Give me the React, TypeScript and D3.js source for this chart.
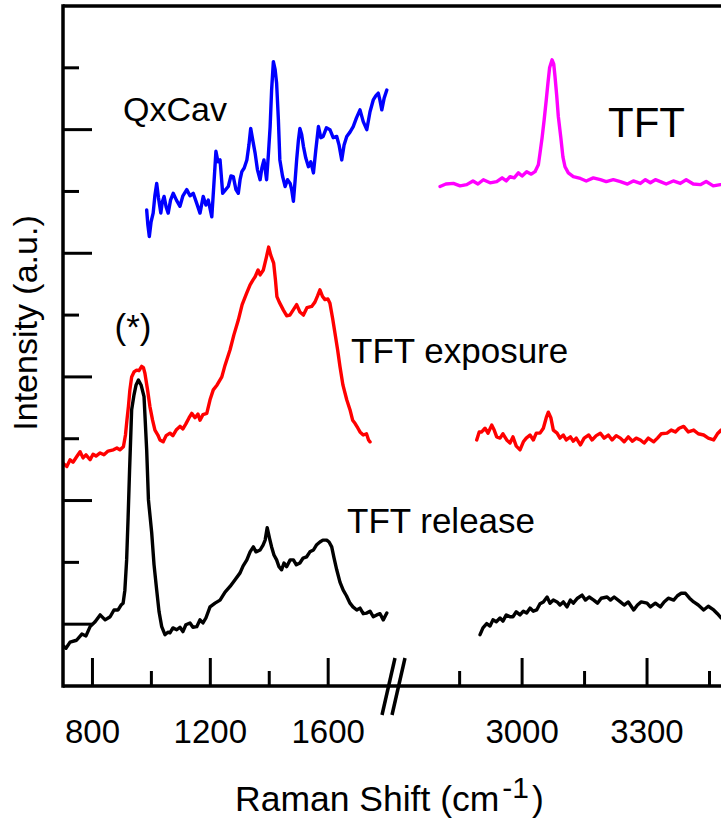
import React from "react";
import * as d3 from "d3";

// ---- Data (Raman shift cm^-1, intensity a.u.) ----
const releaseLeft: [number, number][] = [
  [700,0.65],[710,0.61],[724,0.71],[746,0.74],[764,0.84],[778,0.81],[792,0.96],[809,1.04],[826,1.15],[843,1.07],
  [860,1.12],[873,1.23],[887,1.23],[897,1.31],[904,1.34],[910,1.55],[916,2.04],[921,2.73],[926,3.5],[933,4.47],
  [941,4.71],[948,4.87],[956,4.95],[965,4.87],[975,4.68],[984,3.82],[990,3.01],[1001,2.48],[1009,1.96],[1018,1.55],
  [1026,1.2],[1035,0.96],[1046,0.83],[1056,0.87],[1063,0.86],[1073,0.94],[1086,0.91],[1097,0.95],[1107,0.88],[1117,0.99],
  [1131,1.02],[1141,0.95],[1154,0.96],[1165,1.07],[1175,1.02],[1185,1.1],[1199,1.28],[1216,1.34],[1233,1.39],[1250,1.52],
  [1267,1.61],[1284,1.72],[1301,1.83],[1311,1.94],[1324,2.04],[1335,2.17],[1346,2.25],[1355,2.17],[1369,2.2],[1379,2.28],
  [1386,2.36],[1393,2.56],[1401,2.39],[1408,2.25],[1416,2.12],[1425,2.04],[1433,1.93],[1442,1.88],[1450,1.99],[1459,1.93],
  [1471,2.04],[1482,2.04],[1492,1.96],[1504,1.99],[1515,2.07],[1527,2.09],[1538,2.17],[1550,2.2],[1560,2.28],[1572,2.33],
  [1582,2.36],[1595,2.36],[1603,2.33],[1612,2.25],[1620,2.07],[1629,1.88],[1640,1.68],[1651,1.55],[1662,1.46],[1674,1.34],
  [1684,1.28],[1697,1.23],[1708,1.26],[1719,1.17],[1731,1.18],[1742,1.21],[1753,1.12],[1765,1.15],[1776,1.17],[1787,1.07],[1799,1.18]
];
const releaseRight: [number, number][] = [
  [2899,0.83],[2906,0.94],[2915,1.01],[2923,0.97],[2930,1.07],[2938,1.04],[2947,1.1],[2954,1.05],[2962,1.15],[2971,1.12],
  [2978,1.12],[2986,1.2],[2995,1.15],[3003,1.21],[3011,1.18],[3019,1.26],[3027,1.21],[3035,1.23],[3043,1.33],[3051,1.36],
  [3060,1.44],[3067,1.34],[3075,1.39],[3084,1.36],[3091,1.31],[3099,1.36],[3108,1.28],[3116,1.39],[3123,1.34],[3133,1.42],
  [3144,1.47],[3152,1.39],[3161,1.44],[3172,1.39],[3181,1.34],[3190,1.42],[3204,1.44],[3212,1.39],[3221,1.44],[3236,1.36],
  [3245,1.31],[3255,1.36],[3268,1.23],[3277,1.31],[3286,1.36],[3300,1.34],[3308,1.28],[3320,1.34],[3332,1.28],[3341,1.36],
  [3351,1.42],[3364,1.39],[3373,1.46],[3382,1.5],[3392,1.5],[3402,1.42],[3412,1.36],[3423,1.31],[3436,1.23],[3447,1.29],
  [3460,1.23],[3469,1.17],[3478,1.1]
];
const exposureLeft: [number, number][] = [
  [701,3.6],[713,3.55],[724,3.66],[734,3.62],[748,3.72],[758,3.79],[768,3.69],[778,3.74],[792,3.66],[802,3.75],
  [812,3.72],[826,3.77],[839,3.74],[853,3.8],[871,3.82],[883,3.85],[893,3.82],[905,3.87],[912,4.06],[917,4.3],
  [922,4.52],[927,4.79],[933,5.0],[941,5.08],[950,5.11],[958,5.1],[967,5.17],[973,5.15],[978,5.06],[987,4.79],
  [995,4.52],[1004,4.3],[1012,4.14],[1022,4.06],[1029,3.98],[1040,3.95],[1050,4.05],[1063,4.09],[1073,4.05],[1084,4.14],
  [1097,4.2],[1107,4.16],[1117,4.24],[1128,4.34],[1137,4.41],[1148,4.34],[1158,4.4],[1165,4.3],[1175,4.39],[1188,4.41],
  [1199,4.63],[1210,4.79],[1223,4.87],[1239,5.0],[1250,5.19],[1267,5.44],[1280,5.68],[1295,5.92],[1308,6.17],[1323,6.35],
  [1335,6.49],[1345,6.57],[1352,6.62],[1362,6.73],[1369,6.65],[1380,6.73],[1390,6.93],[1398,7.1],[1405,6.97],[1415,6.84],
  [1421,6.57],[1426,6.3],[1434,6.21],[1448,6.08],[1459,5.99],[1470,6.0],[1481,6.08],[1493,6.17],[1504,6.05],[1516,6.0],
  [1528,6.12],[1544,6.14],[1555,6.21],[1564,6.31],[1572,6.41],[1581,6.3],[1589,6.25],[1599,6.26],[1606,6.19],[1615,5.95],
  [1623,5.71],[1632,5.44],[1640,5.17],[1650,4.87],[1663,4.63],[1674,4.47],[1683,4.3],[1691,4.25],[1701,4.17],[1708,4.11],
  [1719,4.06],[1730,4.08],[1737,3.98],[1742,3.95]
];
const exposureRight: [number, number][] = [
  [2891,3.98],[2897,4.11],[2903,4.11],[2911,4.17],[2918,4.09],[2927,4.22],[2933,4.14],[2939,4.03],[2947,4.01],[2954,4.08],
  [2963,3.98],[2971,3.93],[2978,4.03],[2986,3.88],[2995,3.82],[3003,3.95],[3010,4.01],[3019,4.06],[3027,3.98],[3034,4.09],
  [3043,4.09],[3051,4.17],[3058,4.34],[3063,4.43],[3069,4.34],[3075,4.14],[3084,4.09],[3091,4.01],[3099,4.06],[3106,3.98],
  [3116,4.03],[3123,3.96],[3130,4.01],[3140,3.9],[3149,4.01],[3160,4.06],[3168,3.98],[3178,4.05],[3188,4.09],[3197,4.01],
  [3207,4.06],[3216,3.98],[3226,4.05],[3236,4.01],[3245,3.95],[3255,4.03],[3265,3.96],[3274,4.01],[3284,3.98],[3293,3.93],
  [3303,4.01],[3316,3.95],[3325,4.01],[3334,4.08],[3348,4.09],[3358,4.14],[3368,4.11],[3377,4.17],[3388,4.2],[3399,4.11],
  [3412,4.14],[3423,4.08],[3436,4.06],[3447,4.01],[3460,3.98],[3469,4.08],[3478,4.14]
];
const qxcav: [number, number][] = [
  [984,7.7],[988,7.46],[993,7.27],[999,7.51],[1006,7.65],[1012,7.94],[1018,8.13],[1024,7.9],[1032,7.65],[1037,7.83],
  [1043,7.92],[1050,7.75],[1057,7.65],[1065,7.86],[1074,7.97],[1085,7.86],[1097,7.76],[1107,7.93],[1120,8.03],[1131,7.93],
  [1142,7.97],[1153,7.82],[1165,7.65],[1176,7.92],[1185,7.78],[1193,7.86],[1205,7.59],[1212,8.11],[1219,8.65],[1226,8.48],
  [1233,8.51],[1242,7.97],[1252,8.03],[1261,8.08],[1270,8.25],[1278,8.24],[1287,8.03],[1295,7.97],[1301,8.19],[1307,8.32],
  [1315,8.38],[1324,8.51],[1331,8.75],[1337,9.02],[1344,8.83],[1352,8.62],[1360,8.35],[1369,8.19],[1375,8.38],[1382,8.51],
  [1391,8.19],[1397,8.59],[1403,9.05],[1408,9.64],[1414,10.1],[1420,9.97],[1425,9.75],[1431,9.16],[1436,8.51],[1445,8.25],
  [1454,8.08],[1462,8.19],[1471,8.13],[1476,8.03],[1482,7.84],[1488,8.19],[1493,8.51],[1499,8.83],[1504,9.02],[1510,8.92],
  [1516,8.73],[1524,8.54],[1533,8.4],[1541,8.48],[1550,8.3],[1558,8.67],[1567,9.05],[1575,8.87],[1583,8.89],[1594,9.03],
  [1606,9.0],[1617,8.87],[1629,8.89],[1637,8.75],[1646,8.51],[1654,8.75],[1663,8.89],[1674,8.96],[1685,9.05],[1696,9.19],
  [1708,9.32],[1719,9.13],[1731,9.0],[1742,9.29],[1753,9.48],[1762,9.55],[1770,9.59],[1776,9.47],[1782,9.32],[1790,9.51],[1799,9.64]
];
const tft: [number, number][] = [
  [2803,8.08],[2817,8.12],[2835,8.13],[2851,8.09],[2867,8.11],[2882,8.17],[2894,8.12],[2907,8.19],[2923,8.14],[2939,8.16],
  [2952,8.22],[2962,8.17],[2971,8.24],[2981,8.22],[2991,8.3],[3000,8.25],[3011,8.32],[3022,8.28],[3031,8.32],[3039,8.43],
  [3043,8.62],[3048,8.87],[3053,9.16],[3058,9.48],[3062,9.75],[3066,10.0],[3072,10.13],[3076,10.06],[3079,9.86],[3083,9.56],
  [3087,9.21],[3093,8.87],[3098,8.56],[3103,8.4],[3111,8.3],[3123,8.24],[3140,8.21],[3154,8.17],[3171,8.22],[3188,8.19],
  [3202,8.16],[3219,8.19],[3236,8.16],[3253,8.12],[3267,8.17],[3284,8.13],[3296,8.19],[3308,8.14],[3320,8.19],[3332,8.16],
  [3346,8.12],[3363,8.17],[3380,8.13],[3394,8.19],[3411,8.12],[3428,8.11],[3442,8.16],[3459,8.09],[3476,8.11]
];

const leftMajor = [800, 1200, 1600];
const leftMinor = [1000, 1400];
const rightMajor = [3000, 3300];
const rightMinor = [2850, 3150, 3450];
const yTicks = [1, 2, 3, 4, 5, 6, 7, 8, 9, 10];

const FONT = "'Liberation Sans', Arial, sans-serif";

export default function App() {
  const W = 721, H = 822;
  const plotLeft = 63, plotTop = 6, plotBottom = 686, breakPx = 393, rightEnd = 722;
  const xL = d3.scaleLinear().domain([700, 1820]).range([plotLeft, breakPx]);
  const xR = d3.scaleLinear().domain([2690, 3480]).range([breakPx, rightEnd]);
  const y = d3.scaleLinear().domain([0, 11]).range([plotBottom, plotTop]);

  const lineL = d3.line<[number, number]>().x(d => xL(d[0])).y(d => y(d[1]));
  const lineR = d3.line<[number, number]>().x(d => xR(d[0])).y(d => y(d[1]));

  const series = [
    { d: lineL(releaseLeft), c: "#000000" },
    { d: lineR(releaseRight), c: "#000000" },
    { d: lineL(exposureLeft), c: "#ff0000" },
    { d: lineR(exposureRight), c: "#ff0000" },
    { d: lineL(qxcav), c: "#0000ff" },
    { d: lineR(tft), c: "#ff00ff" },
  ];

  const axisW = 3.5;
  const tickW = 3;
  return (
    <svg width={W} height={H} style={{ position: "absolute", left: 0, top: 0, background: "#fff" }} fontFamily={FONT}>
      <defs>
        <clipPath id="plotclip">
          <rect x={plotLeft} y={plotTop} width={W - plotLeft} height={plotBottom - plotTop} />
        </clipPath>
      </defs>
      <g clipPath="url(#plotclip)">
        {series.map((s, i) => (
          <path key={i} d={s.d || ""} fill="none" stroke={s.c} strokeWidth={3.4} strokeLinejoin="round" strokeLinecap="round" />
        ))}
      </g>
      {/* frame */}
      <line x1={plotLeft} x2={W} y1={plotTop} y2={plotTop} stroke="#000" strokeWidth={axisW} />
      <line x1={plotLeft} x2={W} y1={plotBottom} y2={plotBottom} stroke="#000" strokeWidth={axisW} />
      <line x1={plotLeft} x2={plotLeft} y1={plotTop - axisW / 2} y2={plotBottom + axisW / 2} stroke="#000" strokeWidth={axisW} />
      {/* y ticks */}
      {yTicks.map(t => (
        <line key={t} x1={plotLeft} x2={plotLeft + (t % 2 === 1 ? 29 : 16)} y1={y(t)} y2={y(t)} stroke="#000" strokeWidth={tickW} />
      ))}
      {/* x ticks */}
      {leftMajor.map(t => (
        <line key={"lM" + t} x1={xL(t)} x2={xL(t)} y1={plotBottom} y2={plotBottom - 28} stroke="#000" strokeWidth={tickW} />
      ))}
      {leftMinor.map(t => (
        <line key={"lm" + t} x1={xL(t)} x2={xL(t)} y1={plotBottom} y2={plotBottom - 15} stroke="#000" strokeWidth={tickW} />
      ))}
      {rightMajor.map(t => (
        <line key={"rM" + t} x1={xR(t)} x2={xR(t)} y1={plotBottom} y2={plotBottom - 28} stroke="#000" strokeWidth={tickW} />
      ))}
      {rightMinor.map(t => (
        <line key={"rm" + t} x1={xR(t)} x2={xR(t)} y1={plotBottom} y2={plotBottom - 15} stroke="#000" strokeWidth={tickW} />
      ))}
      {/* break marks */}
      <line x1={breakPx - 11} y1={plotBottom + 29} x2={breakPx + 2} y2={plotBottom - 28} stroke="#000" strokeWidth={3.5} />
      <line x1={breakPx - 1} y1={plotBottom + 29} x2={breakPx + 12} y2={plotBottom - 28} stroke="#000" strokeWidth={3.5} />
      {/* tick labels */}
      {leftMajor.map(t => (
        <text key={"lt" + t} x={xL(t)} y={743} fontSize={33} textAnchor="middle">{t}</text>
      ))}
      {rightMajor.map(t => (
        <text key={"rt" + t} x={xR(t)} y={743} fontSize={33} textAnchor="middle">{t}</text>
      ))}
      {/* axis titles */}
      <text x={235} y={811} fontSize={35.5}>
        Raman Shift (cm<tspan dx={3} dy={-13} fontSize={30}>-1</tspan><tspan dx={3} dy={13} fontSize={35.5}>)</tspan>
      </text>
      <text transform="translate(37,323) rotate(-90)" fontSize={34} textAnchor="middle">Intensity (a.u.)</text>
      {/* annotations */}
      <text x={123} y={121} fontSize={34}>QxCav</text>
      <text x={608} y={137} fontSize={42}>TFT</text>
      <text x={133} y={339} fontSize={35} textAnchor="middle">(*)</text>
      <text x={351} y={363} fontSize={35}>TFT exposure</text>
      <text x={347} y={533} fontSize={35}>TFT release</text>
    </svg>
  );
}
